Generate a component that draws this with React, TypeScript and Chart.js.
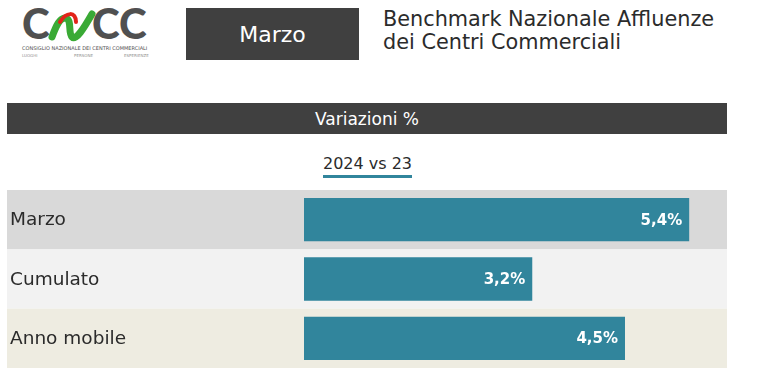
import React, { useEffect, useRef } from "react";
import { Chart, registerables } from "chart.js";

Chart.register(...registerables);

const categories: string[] = ["Marzo", "Cumulato", "Anno mobile"];
const values: number[] = [5.4, 3.2, 4.5];
const valueLabels: string[] = ["5,4%", "3,2%", "4,5%"];
const rowColors: string[] = ["#d9d9d9", "#f2f2f2", "#eeece1"];
const monthLabel = "Marzo";
const titleLines: string[] = ["Benchmark Nazionale Affluenze", "dei Centri Commerciali"];
const sectionTitle = "Variazioni %";
const comparisonLabel = "2024 vs 23";
const X_MAX = 5.93;

const TEAL = "#31859c";
const DARK = "#404040";
const FONT = "'DejaVu Sans', Verdana, sans-serif";

const rowPlugin = {
  id: "rowPlugin",
  beforeDatasetsDraw(chart: any) {
    const { ctx, chartArea, scales } = chart;
    const y = scales.y;
    const n = categories.length;
    const band = (chartArea.bottom - chartArea.top) / n;
    ctx.save();
    for (let i = 0; i < n; i++) {
      const cy = y.getPixelForValue(i);
      ctx.fillStyle = rowColors[i];
      ctx.fillRect(7, cy - band / 2, chartArea.right - 7, band);
      ctx.fillStyle = "#2b2b2b";
      ctx.font = `18.5px ${FONT}`;
      ctx.textAlign = "left";
      ctx.textBaseline = "middle";
      ctx.fillText(categories[i], 10, cy + 1);
    }
    ctx.restore();
  },
  afterDatasetsDraw(chart: any) {
    const { ctx } = chart;
    const meta = chart.getDatasetMeta(0);
    ctx.save();
    ctx.fillStyle = "#ffffff";
    ctx.font = `bold 15px ${FONT}`;
    ctx.textAlign = "right";
    ctx.textBaseline = "middle";
    meta.data.forEach((bar: any, i: number) => {
      ctx.fillText(valueLabels[i], bar.x - 7, bar.y + 1);
    });
    ctx.restore();
  },
};

function Logo() {
  return (
    <svg width="170" height="70" viewBox="0 0 170 70" style={{ position: "absolute", left: 12, top: 0 }}>
      <text x="10" y="39" fontFamily="'Lato', 'DejaVu Sans', sans-serif" fontWeight="900" fontSize="42" fill="#505050">C</text>
      <path d="M40 37 C 44 26, 48 17, 54 18 C 60 20, 56 33, 60 37 C 64 41, 72 28, 80 14" stroke="#3aaa35" strokeWidth="7" fill="none" strokeLinecap="round" />
      <path d="M48 22 C 54 12, 64 11, 64 22" stroke="#e2231a" strokeWidth="4" fill="none" strokeLinecap="round" />
      <text x="80" y="39" fontFamily="'Lato', 'DejaVu Sans', sans-serif" fontWeight="900" fontSize="42" fill="#505050">CC</text>
      <text x="10" y="50" fontFamily="'DejaVu Sans', sans-serif" fontSize="5" fill="#505050">CONSIGLIO NAZIONALE DEI CENTRI COMMERCIALI</text>
      <text x="10" y="57" fontFamily="'DejaVu Sans', sans-serif" fontSize="4" fill="#909090">LUOGHI</text>
      <text x="62" y="57" fontFamily="'DejaVu Sans', sans-serif" fontSize="4" fill="#909090">PERSONE</text>
      <text x="112" y="57" fontFamily="'DejaVu Sans', sans-serif" fontSize="4" fill="#909090">ESPERIENZE</text>
    </svg>
  );
}

export default function App() {
  const canvasRef = useRef<HTMLCanvasElement | null>(null);

  useEffect(() => {
    if (!canvasRef.current) return;
    const chart = new Chart(canvasRef.current, {
      type: "bar",
      data: {
        labels: categories,
        datasets: [
          {
            data: values,
            backgroundColor: TEAL,
            borderWidth: 0,
            barPercentage: 0.73,
            categoryPercentage: 1,
          },
        ],
      },
      options: {
        indexAxis: "y",
        animation: false,
        responsive: false,
        maintainAspectRatio: false,
        layout: { padding: { left: 304, right: 30, top: 5, bottom: 7 } },
        plugins: { legend: { display: false }, tooltip: { enabled: false } },
        scales: {
          x: { display: false, min: 0, max: X_MAX, grid: { display: false } },
          y: { display: false, grid: { display: false } },
        },
      },
      plugins: [rowPlugin],
    } as any);
    return () => chart.destroy();
  }, []);

  return (
    <div style={{ position: "absolute", left: 0, top: 0, width: 757, height: 380, background: "#ffffff", overflow: "hidden", fontFamily: FONT }}>
      <Logo />
      <div
        style={{
          position: "absolute", left: 186, top: 8, width: 173, height: 52, background: DARK,
          color: "#ffffff", fontSize: 22, display: "flex", alignItems: "center", justifyContent: "center",
        }}
      >
        {monthLabel}
      </div>
      <div style={{ position: "absolute", left: 383, top: 8, color: "#2b2b2b", fontSize: 20.8, lineHeight: "23px", whiteSpace: "nowrap" }}>
        {titleLines.map((l) => (
          <div key={l}>{l}</div>
        ))}
      </div>
      <div
        style={{
          position: "absolute", left: 7, top: 103, width: 720, height: 31, background: DARK,
          color: "#ffffff", fontSize: 17, display: "flex", alignItems: "center", justifyContent: "center",
        }}
      >
        {sectionTitle}
      </div>
      <div style={{ position: "absolute", left: 0, top: 154, width: 735, textAlign: "center" }}>
        <span style={{ display: "inline-block", fontSize: 16, color: "#2b2b2b", borderBottom: `3px solid ${TEAL}`, lineHeight: "20px", paddingBottom: 1 }}>
          {comparisonLabel}
        </span>
      </div>
      <canvas ref={canvasRef} width={757} height={190} style={{ position: "absolute", left: 0, top: 185, width: 757, height: 190 }} />
    </div>
  );
}
